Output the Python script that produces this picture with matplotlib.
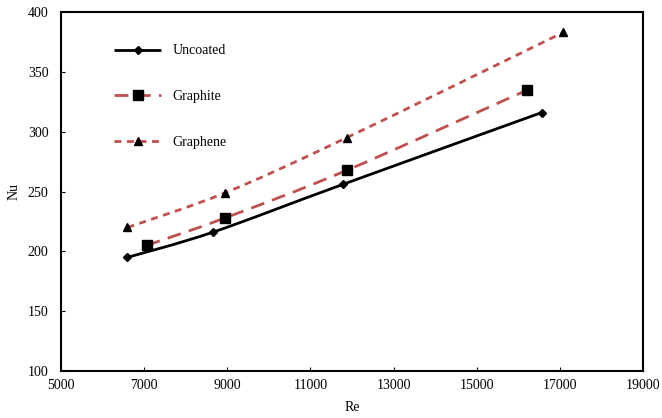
import numpy as np
import matplotlib.pyplot as plt
from matplotlib.path import Path
from matplotlib.patches import PathPatch
from matplotlib.lines import Line2D

plt.rcParams['font.family'] = ['Liberation Serif', 'DejaVu Serif']

# data
re_uncoated = [6600, 8650, 11780, 16560]
nu_uncoated = [195, 216, 256, 316]
re_graphite = [7060, 8950, 11890, 16220]
nu_graphite = [205, 228, 268, 335]
re_graphene = [6600, 8950, 11870, 17080]
nu_graphene = [220, 249, 295, 383]

red = '#C0504D'


def smooth_path(xs, ys):
    # Excel style smoothed line: cubic bezier through the points
    p = np.column_stack([xs, ys]).astype(float)
    ext = np.vstack([p[0], p, p[-1]])
    verts = [p[0]]
    codes = [Path.MOVETO]
    for i in range(1, len(ext) - 2):
        c1 = ext[i] + (ext[i + 1] - ext[i - 1]) / 6.0
        c2 = ext[i + 1] - (ext[i + 2] - ext[i]) / 6.0
        verts += [c1, c2, ext[i + 1]]
        codes += [Path.CURVE4] * 3
    return Path(verts, codes)


fig = plt.figure(figsize=(6.62, 4.18), dpi=100)
ax = fig.add_axes([0.0921, 0.1124, 0.8792, 0.8586])

series = [
    (re_uncoated, nu_uncoated, 'k', (0, ()), 'D', 4, 'Uncoated'),
    (re_graphite, nu_graphite, red, (0, (5, 3)), 's', 7, 'Graphite'),
    (re_graphene, nu_graphene, red, (0, (2.5, 2)), '^', 6, 'Graphene'),
]
handles = []
for xs, ys, c, ls, mk, ms, lab in series:
    patch = PathPatch(smooth_path(xs, ys), facecolor='none', edgecolor=c,
                      lw=2, linestyle=ls, zorder=2)
    ax.add_patch(patch)
    ax.plot(xs, ys, linestyle='none', marker=mk, ms=ms, color='k', zorder=3)
    handles.append(Line2D([], [], color=c, lw=2, linestyle=ls, marker=mk,
                          ms=ms, mfc='k', mec='k', label=lab))

ax.set_xlim(5000, 19000)
ax.set_ylim(100, 400)
ax.set_xticks(range(5000, 19001, 2000))
ax.set_yticks(range(100, 401, 50))
ax.tick_params(direction='in', labelsize=10, length=3, width=0.8)
ax.tick_params(axis='y', pad=9)
ax.tick_params(axis='x', pad=6)
for s in ax.spines.values():
    s.set_linewidth(1.5)
ax.set_xlabel('Re', fontsize=10, labelpad=6)
ax.set_ylabel('Nu', fontsize=10, labelpad=5)

ax.legend(handles=handles, loc='upper left', bbox_to_anchor=(0.07, 0.945),
          frameon=False, fontsize=10, handlelength=3.4, labelspacing=2.35,
          handletextpad=0.8)

fig.savefig('out.png', dpi=100)
